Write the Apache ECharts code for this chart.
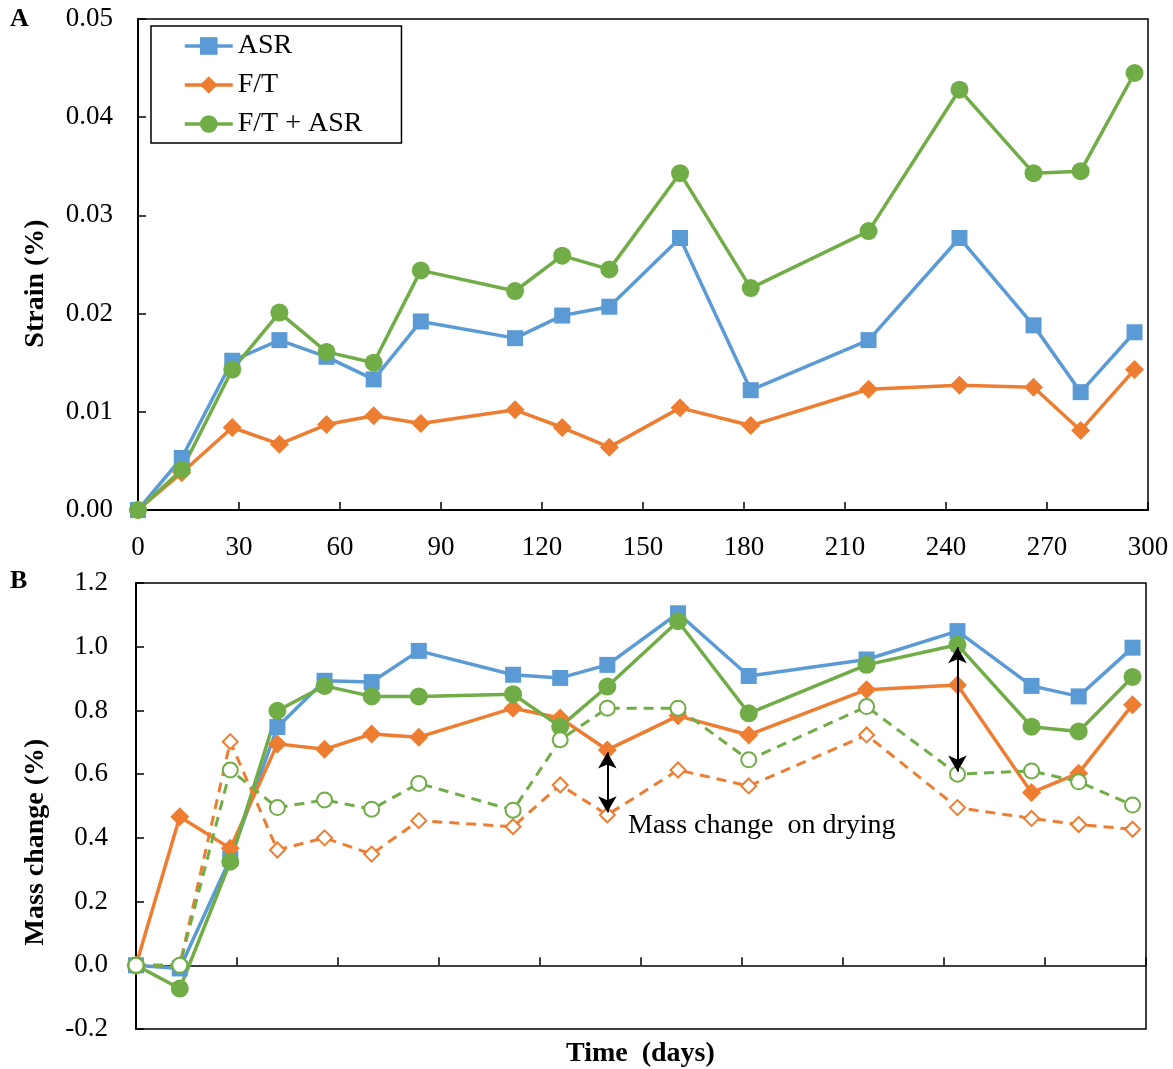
<!DOCTYPE html>
<html>
<head>
<meta charset="utf-8">
<script src="https://cdn.jsdelivr.net/npm/echarts@6/dist/echarts.min.js"></script>
<style>
  html, body { margin: 0; padding: 0; background: #fff; }
  #chart { width: 1173px; height: 1069px; }
</style>
</head>
<body>
<div id="chart"></div>
<script>
// sampling days (shared by both panels)
var days = [0, 13, 28, 42, 56, 70, 84, 112, 126, 140, 161, 182, 217, 244, 266, 280, 296];

// panel A - strain (%)
var strainASR = [0, 0.0053, 0.0152, 0.0173, 0.0156, 0.0133, 0.0192, 0.0175, 0.0198, 0.0207, 0.0277, 0.0122, 0.0173, 0.0277, 0.0188, 0.0120, 0.0181];
var strainFT = [0, 0.0038, 0.0084, 0.0067, 0.0087, 0.0096, 0.0088, 0.0102, 0.0084, 0.0064, 0.0104, 0.0086, 0.0123, 0.0127, 0.0125, 0.0081, 0.0143];
var strainFTASR = [0, 0.0041, 0.0143, 0.0201, 0.0161, 0.0150, 0.0244, 0.0223, 0.0259, 0.0245, 0.0343, 0.0226, 0.0284, 0.0428, 0.0343, 0.0345, 0.0445];

// panel B - mass change (%)
var massASR = [0, -0.01, 0.335, 0.748, 0.893, 0.889, 0.987, 0.912, 0.902, 0.943, 1.105, 0.908, 0.960, 1.049, 0.877, 0.844, 0.997];
var massFT = [0, 0.466, 0.367, 0.695, 0.678, 0.726, 0.716, 0.807, 0.776, 0.676, 0.783, 0.723, 0.865, 0.880, 0.542, 0.603, 0.818];
var massFTASR = [0, -0.073, 0.325, 0.799, 0.877, 0.844, 0.844, 0.851, 0.749, 0.875, 1.080, 0.791, 0.943, 1.006, 0.749, 0.734, 0.905];
// after drying (dashed, hollow)
var dryFT = [0, 0, 0.702, 0.362, 0.400, 0.349, 0.454, 0.435, 0.566, 0.472, 0.613, 0.563, 0.723, 0.495, 0.461, 0.442, 0.427];
var dryFTASR = [0, 0, 0.613, 0.495, 0.519, 0.490, 0.571, 0.487, 0.708, 0.807, 0.807, 0.645, 0.812, 0.600, 0.610, 0.576, 0.503];

// arrows "mass change on drying": [day, from, to]
var dryArrows = [[140, 0.668, 0.480], [244, 0.998, 0.608]];

var FONT = "'Liberation Serif', 'Times New Roman', serif";
var BLUE = '#5B9BD5', ORANGE = '#ED7D31', GREEN = '#70AD47';

function pairs(ys) {
    return days.map(function (d, i) { return [d, ys[i]]; });
}

function solid(name, ys, color, symbol, size, idx) {
    return {
        name: name,
        type: 'line',
        xAxisIndex: idx,
        yAxisIndex: idx,
        data: pairs(ys),
        symbol: symbol,
        symbolSize: size,
        clip: false,
        color: color,
        lineStyle: { color: color, width: 3.5 },
        itemStyle: { color: color },
        emphasis: { disabled: true }
    };
}

function dashed(name, ys, color, symbol) {
    return {
        name: name,
        type: 'line',
        xAxisIndex: 1,
        yAxisIndex: 1,
        data: pairs(ys),
        symbol: symbol,
        symbolSize: 15,
        clip: false,
        color: color,
        lineStyle: { color: color, width: 3, type: [10, 7] },
        itemStyle: { color: color, borderColor: color, borderWidth: 3.5 },
        emphasis: { disabled: true }
    };
}

var myChart = echarts.init(document.getElementById('chart'));

var axisCommon = {
    axisLine: { lineStyle: { color: '#000', width: 2 } },
    axisTick: { inside: true, length: 8, lineStyle: { color: '#000', width: 1.5 } },
    splitLine: { show: false },
    axisLabel: { color: '#000', fontFamily: FONT, fontSize: 27 }
};

var arrowSeries = dashed('dry F/T', dryFT, ORANGE, 'emptyDiamond');
arrowSeries.markLine = {
    silent: true,
    symbol: ['arrow', 'arrow'],
    symbolSize: [14, 16],
    label: { show: false },
    lineStyle: { color: '#000', width: 2, type: 'solid' },
    data: dryArrows.map(function (a) {
        return [{ coord: [a[0], a[1]] }, { coord: [a[0], a[2]] }];
    })
};

option = {
    animation: false,
    backgroundColor: '#fff',
    grid: [
        { left: 138, top: 19, width: 1010, height: 491, show: true, borderColor: '#000', borderWidth: 1.5, backgroundColor: 'transparent' },
        { left: 136, top: 583, width: 1010, height: 446, show: true, borderColor: '#000', borderWidth: 1.5, backgroundColor: 'transparent' }
    ],
    legend: {
        data: ['ASR', 'F/T', 'F/T + ASR'],
        orient: 'vertical',
        left: 151,
        top: 26,
        padding: [6, 39, 5, 32],
        itemGap: 11,
        itemWidth: 48,
        itemHeight: 22,
        backgroundColor: '#fff',
        borderColor: '#000',
        borderWidth: 1.5,
        borderRadius: 0,
        selectedMode: false,
        lineStyle: { width: 3.5 },
        textStyle: { color: '#000', fontFamily: FONT, fontSize: 28 }
    },
    xAxis: [
        Object.assign({}, axisCommon, {
            type: 'value', gridIndex: 0, min: 0, max: 300, interval: 30,
            axisLabel: Object.assign({}, axisCommon.axisLabel, { margin: 24 })
        }),
        Object.assign({}, axisCommon, {
            type: 'value', gridIndex: 1, min: 0, max: 300, interval: 30,
            axisLine: { onZero: true, lineStyle: { color: '#000', width: 1.5 } },
            axisLabel: { show: false }
        })
    ],
    yAxis: [
        Object.assign({}, axisCommon, {
            type: 'value', gridIndex: 0, min: 0, max: 0.05, interval: 0.01,
            name: 'Strain (%)', nameLocation: 'middle', nameGap: 88,
            nameTextStyle: { color: '#000', fontFamily: FONT, fontSize: 28, fontWeight: 'bold', padding: [0, 38, 0, 0] },
            axisLabel: Object.assign({}, axisCommon.axisLabel, {
                margin: 25,
                formatter: function (v) { return v.toFixed(2); }
            })
        }),
        Object.assign({}, axisCommon, {
            type: 'value', gridIndex: 1, min: -0.2, max: 1.2, interval: 0.2,
            name: 'Mass change (%)', nameLocation: 'middle', nameGap: 86,
            nameTextStyle: { color: '#000', fontFamily: FONT, fontSize: 28, fontWeight: 'bold', padding: [0, 72, 0, 0] },
            axisLine: { onZero: false, lineStyle: { color: '#000', width: 2 } },
            axisLabel: Object.assign({}, axisCommon.axisLabel, {
                margin: 28,
                formatter: function (v) { return v.toFixed(1); }
            })
        })
    ],
    series: [
        solid('ASR', strainASR, BLUE, 'rect', 16, 0),
        solid('F/T', strainFT, ORANGE, 'diamond', 19, 0),
        solid('F/T + ASR', strainFTASR, GREEN, 'circle', 18, 0),
        solid('ASR B', massASR, BLUE, 'rect', 16, 1),
        solid('F/T B', massFT, ORANGE, 'diamond', 19, 1),
        solid('F/T + ASR B', massFTASR, GREEN, 'circle', 18, 1),
        arrowSeries,
        dashed('dry F/T + ASR', dryFTASR, GREEN, 'emptyCircle')
    ],
    graphic: [
        { type: 'text', left: 10, top: 6, style: { text: 'A', font: 'bold 26px ' + FONT, fill: '#000' } },
        { type: 'text', left: 10, top: 568, style: { text: 'B', font: 'bold 26px ' + FONT, fill: '#000' } },
        { type: 'text', left: 628, top: 812, style: { text: 'Mass change  on drying', font: '28px ' + FONT, fill: '#000' } },
        { type: 'text', left: 566, top: 1040, style: { text: 'Time  (days)', font: 'bold 28px ' + FONT, fill: '#000' } }
    ]
};

myChart.setOption(option);
</script>
</body>
</html>
